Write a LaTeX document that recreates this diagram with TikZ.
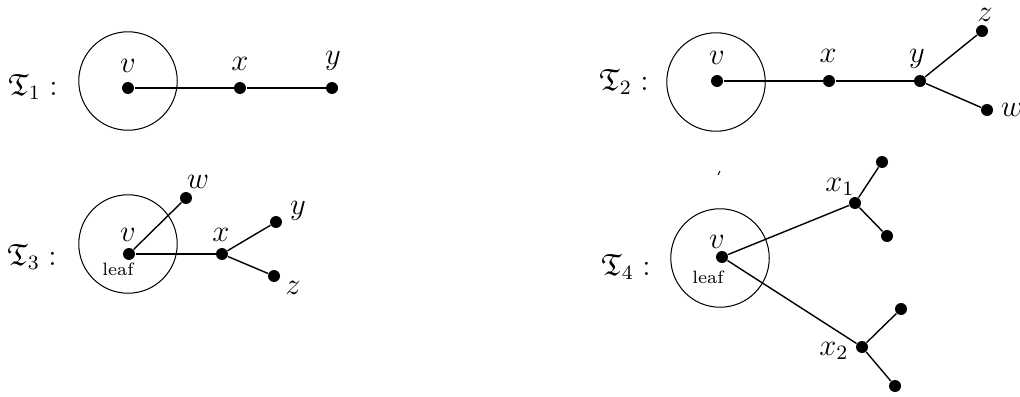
\documentclass[tikz,border=0pt]{standalone}
\usepackage{amsmath,amssymb}
\begin{document}
\begin{tikzpicture}[x=0.392pt,y=-0.392pt,
  dot/.style={circle,fill=black,inner sep=0pt,minimum size=4.7pt},
  ring/.style={circle,draw,inner sep=0pt,minimum size=38.6pt,line width=0.4pt},
  edge/.style={line width=0.55pt},
  lbl/.style={inner sep=0pt,font=\large},
  tiny lbl/.style={inner sep=0pt,font=\scriptsize}]
\useasboundingbox (0,0) rectangle (1020,396);

% ---------- T1 ----------
\node[lbl] (t1) at (33,87) {$\mathfrak{T}_1 :$};
\node[ring] (c1) at (128,81) {};
\node[dot] (v1) at (128,88) {};
\node[dot] (x1) at (240,88) {};
\node[dot] (y1) at (332,88) {};
\node[lbl] (lv1) at (128,66) {$v$};
\node[lbl] (lx1) at (240,64) {$x$};
\node[lbl] (ly1) at (333,61) {$y$};
\draw[edge] (v1) -- (x1) -- (y1);

% ---------- T2 ----------
\node[lbl] (t2) at (624,82) {$\mathfrak{T}_2 :$};
\node[ring] (c2) at (716,82) {};
\node[dot] (v2) at (717,81) {};
\node[dot] (x2) at (829,81) {};
\node[dot] (y2) at (920,81) {};
\node[dot] (z2) at (982,31) {};
\node[dot] (w2) at (987,110) {};
\node[lbl] (lv2) at (717,58) {$v$};
\node[lbl] (lx2) at (828,56) {$x$};
\node[lbl] (ly2) at (917,59) {$y$};
\node[lbl] (lz2) at (985,15) {$z$};
\node[lbl] (lw2) at (1012,110) {$w$};
\draw[edge] (v2) -- (x2) -- (y2);
\draw[edge] (y2) -- (z2);
\draw[edge] (y2) -- (w2);

% ---------- T3 ----------
\node[lbl] (t3) at (32,257) {$\mathfrak{T}_3 :$};
\node[ring] (c3) at (128,244) {};
\node[dot] (v3) at (129,254) {};
\node[dot] (w3) at (186,198) {};
\node[dot] (x3) at (222,254) {};
\node[dot] (y3) at (276,222) {};
\node[dot] (z3) at (274,276) {};
\node[lbl] (lv3) at (128,235) {$v$};
\node[tiny lbl] (leaf3) at (118,269) {leaf};
\node[lbl] (lw3) at (198,182) {$w$};
\node[lbl] (lx3) at (221,235) {$x$};
\node[lbl] (ly3) at (298,211) {$y$};
\node[lbl] (lz3) at (293,288) {$z$};
\draw[edge] (v3) -- (w3);
\draw[edge] (v3) -- (x3);
\draw[edge] (x3) -- (y3);
\draw[edge] (x3) -- (z3);

% ---------- T4 ----------
\node[lbl] (t4) at (626,267) {$\mathfrak{T}_4 :$};
\node[ring] (c4) at (720,258) {};
\node[dot] (v4) at (722,257) {};
\node[dot] (a4) at (855,203) {};
\node[dot] (a4u) at (882,162) {};
\node[dot] (a4d) at (887,236) {};
\node[dot] (b4) at (862,347) {};
\node[dot] (b4u) at (901,309) {};
\node[dot] (b4d) at (895,386) {};
\node[lbl] (lv4) at (717,242) {$v$};
\node[tiny lbl] (leaf4) at (708,277) {leaf};
\node[lbl] (la4) at (840,187) {$x_1$};
\node[lbl] (lb4) at (834,351) {$x_2$};
\draw[edge] (v4) -- (a4);
\draw[edge] (a4) -- (a4u);
\draw[edge] (a4) -- (a4d);
\draw[edge] (v4) -- (b4);
\draw[edge] (b4) -- (b4u);
\draw[edge] (b4) -- (b4d);

% stray tick
\draw[line width=0.4pt] (718,175) -- (720,171);
\end{tikzpicture}
\end{document}
